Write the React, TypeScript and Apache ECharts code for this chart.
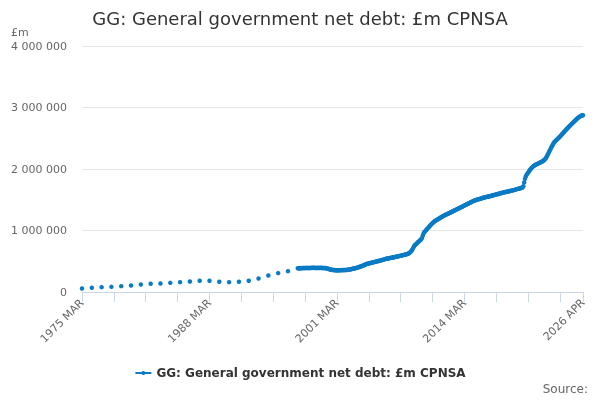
import React, { useEffect, useRef } from 'react';
import * as echarts from 'echarts';

// months counted from 1975 MAR
const START_YEAR = 1975;
const START_MONTH = 2; // MAR
const MONTHS = ['JAN', 'FEB', 'MAR', 'APR', 'MAY', 'JUN', 'JUL', 'AUG', 'SEP', 'OCT', 'NOV', 'DEC'];

const SERIES_NAME = 'GG: General government net debt: £m CPNSA';

// annual values (£bn), March 1975 to March 1996
const annualDebt = [
  57, 68, 79, 84, 95, 106, 122, 133, 138, 149, 160,
  171, 182, 182, 166, 160, 166, 182, 220, 269, 307, 339,
];

// monthly values (£bn), March 1997 to April 2026, one row per year from March
const monthlyDebt = [
  385, 386, 384, 388, 387, 389, 388, 390, 389, 391, 390, 392,
  390, 391, 389, 392, 391, 393, 392, 394, 392, 393, 391, 392,
  391, 393, 392, 391, 393, 392, 390, 391, 389, 390, 388, 386,
  382, 378, 374, 370, 366, 362, 360, 358, 357, 356, 355, 354,
  352, 354, 353, 355, 354, 356, 355, 357, 356, 358, 357, 359,
  358, 361, 363, 366, 368, 371, 374, 377, 380, 384, 387, 390,
  392, 397, 401, 406, 410, 415, 420, 425, 430, 436, 442, 448,
  455, 458, 462, 465, 468, 472, 475, 478, 481, 485, 488, 491,
  495, 498, 502, 505, 509, 512, 516, 519, 523, 527, 531, 535,
  540, 542, 545, 547, 550, 553, 555, 558, 561, 564, 566, 570,
  572, 575, 578, 581, 584, 587, 590, 593, 596, 600, 603, 607,
  611, 614, 618, 623, 630, 640, 652, 668, 688, 710, 735, 758,
  770, 782, 795, 808, 820, 832, 845, 858, 880, 920, 955, 975,
  990, 1005, 1020, 1035, 1050, 1065, 1080, 1095, 1108, 1120, 1133, 1145,
  1155, 1163, 1172, 1180, 1188, 1196, 1204, 1212, 1220, 1227, 1235, 1242,
  1250, 1256, 1262, 1268, 1274, 1280, 1287, 1293, 1300, 1306, 1313, 1320,
  1328, 1334, 1340, 1347, 1353, 1360, 1366, 1373, 1380, 1387, 1393, 1400,
  1408, 1414, 1420, 1427, 1433, 1440, 1446, 1453, 1460, 1467, 1474, 1481,
  1486, 1490, 1494, 1499, 1503, 1507, 1511, 1515, 1519, 1523, 1528, 1533,
  1536, 1539, 1542, 1546, 1549, 1552, 1555, 1558, 1561, 1565, 1568, 1572,
  1575, 1579, 1583, 1587, 1590, 1594, 1598, 1601, 1605, 1609, 1612, 1616,
  1619, 1622, 1625, 1628, 1631, 1634, 1637, 1640, 1643, 1646, 1649, 1653,
  1656, 1660, 1664, 1668, 1672, 1676, 1680, 1684, 1688, 1692, 1696, 1700,
  1720, 1780, 1840, 1880, 1905, 1925, 1945, 1965, 1985, 2000, 2015, 2030,
  2042, 2052, 2060, 2068, 2075, 2082, 2088, 2095, 2102, 2108, 2115, 2122,
  2130, 2140, 2152, 2168, 2188, 2212, 2238, 2265, 2292, 2318, 2345, 2370,
  2395, 2418, 2440, 2452, 2465, 2478, 2490, 2503, 2516, 2530, 2545, 2560,
  2575, 2590, 2605, 2620, 2635, 2650, 2663, 2676, 2690, 2704, 2718, 2732,
  2745, 2758, 2770, 2782, 2795, 2808, 2820, 2832, 2843, 2852, 2860, 2866,
  2872, 2875,
];
const MONTHLY_START = 264; // 1997 MAR

const X_MAX = 613; // 2026 APR
const X_TICK = 39;
const X_LABEL_EVERY = 156;
const Y_TICKS = [0, 1000000, 2000000, 3000000, 4000000];

const monthLabel = (m: number) => {
  const total = START_YEAR * 12 + START_MONTH + m;
  return `${Math.floor(total / 12)} ${MONTHS[total % 12]}`;
};

const spaced = (v: number) => String(v).replace(/\B(?=(\d{3})+(?!\d))/g, ' ');

const App = () => {
  const chartRef = useRef<HTMLDivElement>(null);

  useEffect(() => {
    const chart = echarts.init(chartRef.current, null, { renderer: 'svg' });

    const points: [number, number][] = [];
    annualDebt.forEach((v, i) => points.push([i * 12, v * 1000]));
    monthlyDebt.forEach((v, i) => points.push([MONTHLY_START + i, v * 1000]));

    const font = 'DejaVu Sans';
    const blue = '#0a7bc4';

    chart.setOption({
      animation: false,
      textStyle: { fontFamily: font },
      title: {
        text: 'GG: General government net debt: £m CPNSA',
        left: 'center',
        top: 4,
        textStyle: { fontFamily: font, fontSize: 18, fontWeight: 'normal', color: '#333333' },
      },
      grid: { left: 82, right: 17, top: 46, bottom: 108 },
      legend: {
        data: [SERIES_NAME],
        bottom: 16,
        left: 'center',
        itemWidth: 16,
        itemHeight: 5,
        itemGap: 5,
        lineStyle: { width: 2, opacity: 1 },
        textStyle: { fontFamily: font, fontSize: 12, fontWeight: 'bold', color: '#333333' },
      },
      graphic: [
        { type: 'text', left: 11, top: 27, style: { text: '£m', fontFamily: font, fontSize: 11, fill: '#666666' } },
        { type: 'text', right: 12, top: 383, style: { text: 'Source:', fontFamily: font, fontSize: 12, fill: '#666666' } },
      ],
      xAxis: {
        type: 'value',
        min: 0,
        max: X_MAX,
        interval: X_TICK,
        splitLine: { show: false },
        axisLine: { show: true, lineStyle: { color: '#ccd6eb' } },
        axisTick: { show: true, length: 10, lineStyle: { color: '#ccd6eb' } },
        axisLabel: {
          rotate: 45,
          margin: 9,
          fontFamily: font,
          fontSize: 11,
          color: '#666666',
          showMinLabel: true,
          showMaxLabel: true,
          formatter: (v: number) => (v % X_LABEL_EVERY === 0 || v === X_MAX ? monthLabel(v) : ''),
        },
      },
      yAxis: {
        type: 'value',
        min: Y_TICKS[0],
        max: Y_TICKS[Y_TICKS.length - 1],
        interval: Y_TICKS[1] - Y_TICKS[0],
        axisLine: { show: false },
        axisTick: { show: false },
        splitLine: { lineStyle: { color: '#e6e6e6' } },
        axisLabel: { margin: 15, fontFamily: font, fontSize: 11, color: '#666666', formatter: (v: number) => spaced(v) },
      },
      series: [
        {
          name: SERIES_NAME,
          type: 'line',
          data: points,
          symbol: 'circle',
          symbolSize: 4.5,
          showAllSymbol: true,
          itemStyle: { color: blue },
          lineStyle: { width: 0, opacity: 0, color: blue },
        },
      ],
    });

    return () => {
      chart.dispose();
    };
  }, []);

  return <div ref={chartRef} style={{ position: 'fixed', left: 0, top: 0, width: '600px', height: '400px' }}></div>;
};

export default App;
